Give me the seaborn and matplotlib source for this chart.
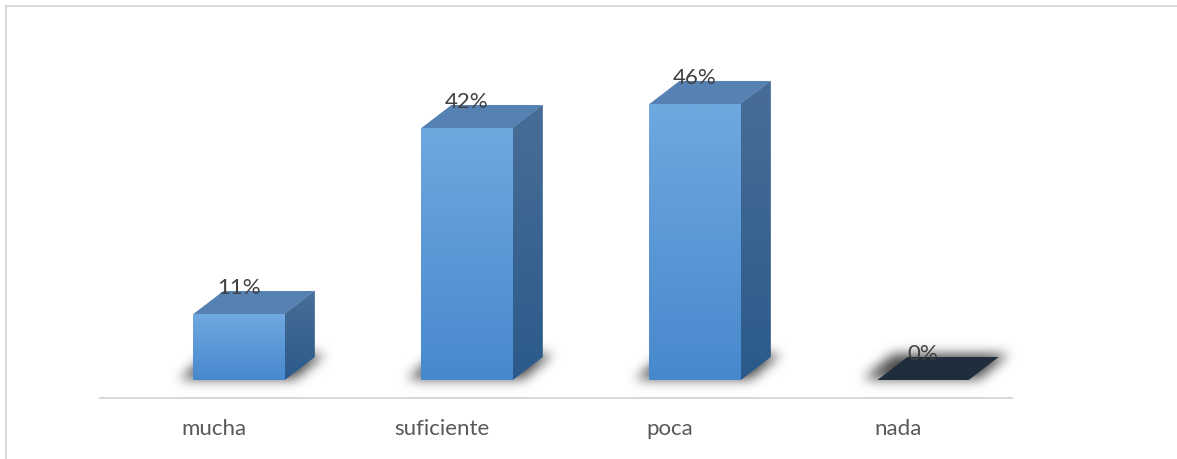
import numpy as np
import pandas as pd
import matplotlib
matplotlib.use("Agg")
import matplotlib.pyplot as plt
import seaborn as sns
from matplotlib.patches import Polygon
from matplotlib.lines import Line2D
from matplotlib.colors import LinearSegmentedColormap

# ---- data ----
categories = ["mucha", "suficiente", "poca", "nada"]
percentages = [11, 42, 46, 0]
value_labels = ["11%", "42%", "46%", "0%"]

# ---- canvas ----
W, H, DPI = 1177, 459, 100
sns.set_theme(style="white")
plt.rcParams["font.family"] = ["Lato", "DejaVu Sans"]

fig = plt.figure(figsize=(W / DPI, H / DPI), dpi=DPI)
fig.patch.set_facecolor("white")
ax = fig.add_axes([100 / W, 61 / H, 912 / W, 318 / H], zorder=1)
ax.patch.set_visible(False)

df = pd.DataFrame({"categoria": categories, "porcentaje": percentages})
sns.barplot(data=df, x="categoria", y="porcentaje", order=categories,
            width=0.4, color="#5b9bd5", saturation=1, ax=ax, zorder=3)
XLIM, YLIM = (-0.5, 3.5), (-3, 50)
ax.set_xlim(*XLIM)
ax.set_ylim(*YLIM)

# pixel <-> data conversion for the 3D depth offsets
p0 = ax.transData.transform((0, 0))
p1 = ax.transData.transform((1, 1))
px_x, px_y = p1[0] - p0[0], p1[1] - p0[1]
DEPTH_X, DEPTH_Y = 30 / px_x, 23 / px_y
SHIFT = 25 / px_x
LABEL_GAP = 26 / px_y

front_cmap = LinearSegmentedColormap.from_list("front", ["#4788cd", "#70a8e0"])
side_cmap = LinearSegmentedColormap.from_list("side", ["#2b5a8a", "#486e97"])
TOP_COLOR = "#5681b3"
FLAT_COLOR = "#1f2d3d"
grad = np.linspace(0, 1, 256).reshape(-1, 1)

bases = []
for patch, h, lab in zip(ax.patches, percentages, value_labels):
    x0 = patch.get_x() + SHIFT
    w = patch.get_width()
    patch.set_x(x0)
    patch.set_edgecolor("none")
    bases.append((x0, w))
    if h > 0:
        im = ax.imshow(grad, extent=[x0, x0 + w, 0, h], origin="lower",
                       cmap=front_cmap, aspect="auto", zorder=3.5)
        im.set_clip_path(patch)
        side = Polygon([(x0 + w, 0), (x0 + w + DEPTH_X, DEPTH_Y),
                        (x0 + w + DEPTH_X, h + DEPTH_Y), (x0 + w, h)],
                       closed=True, facecolor="#3a6590", edgecolor="none", zorder=3)
        ax.add_patch(side)
        ims = ax.imshow(grad, extent=[x0 + w, x0 + w + DEPTH_X, 0, h + DEPTH_Y],
                        origin="lower", cmap=side_cmap, aspect="auto", zorder=3.5)
        ims.set_clip_path(side)
        top_color = TOP_COLOR
    else:
        patch.set_visible(False)
        top_color = FLAT_COLOR
    top = Polygon([(x0, h), (x0 + w, h), (x0 + w + DEPTH_X, h + DEPTH_Y),
                   (x0 + DEPTH_X, h + DEPTH_Y)],
                  closed=True, facecolor=top_color, edgecolor="none", zorder=4)
    ax.add_patch(top)
    ax.text(x0 + w / 2, h + LABEL_GAP, lab, ha="center", va="center",
            fontsize=16, color="#404040", zorder=6, clip_on=False)

ax.set_xlim(*XLIM)
ax.set_ylim(*YLIM)

# ---- soft floor shadows behind each bar ----
yy, xx = np.mgrid[0:H, 0:W]
disp_y = H - yy - 0.5
disp_x = xx + 0.5
mask = np.zeros((H, W))
floor = ax.transData.transform((0, 0))[1]
for x0, w in bases:
    L = ax.transData.transform((x0, 0))[0]
    R = ax.transData.transform((x0 + w, 0))[0]
    t = (disp_y - (floor + 1)) / (23 + 2)
    inside = (t >= 0) & (t <= 1)
    left = L - 14 + t * 30
    right = R + 10 + t * 30
    mask[inside & (disp_x >= left) & (disp_x <= right)] = 1.0

sigma = 6.0
k = np.arange(-20, 21)
kern = np.exp(-k ** 2 / (2 * sigma ** 2))
kern /= kern.sum()
blur = np.apply_along_axis(lambda r: np.convolve(r, kern, mode="same"), 1, mask)
blur = np.apply_along_axis(lambda c: np.convolve(c, kern, mode="same"), 0, blur)
rgba = np.zeros((H, W, 4))
rgba[..., 3] = np.clip(blur, 0, 1) * 0.72
fig.figimage(rgba, xo=0, yo=0, origin="upper", zorder=-1)

# ---- axes styling ----
for s in ["top", "right", "left"]:
    ax.spines[s].set_visible(False)
ax.spines["bottom"].set_color("#d9d9d9")
ax.spines["bottom"].set_linewidth(1.5)
ax.set_yticks([])
ax.set_xlabel("")
ax.set_ylabel("")
ax.tick_params(axis="x", length=0, pad=15, labelsize=16, labelcolor="#595959")

# ---- outer frame ----
fig.add_artist(Line2D([5.5 / W, 1], [1 - 5.5 / H, 1 - 5.5 / H],
                      transform=fig.transFigure, color="#d9d9d9", lw=1.5))
fig.add_artist(Line2D([5.5 / W, 5.5 / W], [0, 1 - 5.5 / H],
                      transform=fig.transFigure, color="#d9d9d9", lw=1.5))

fig.savefig("out.png", dpi=DPI)
